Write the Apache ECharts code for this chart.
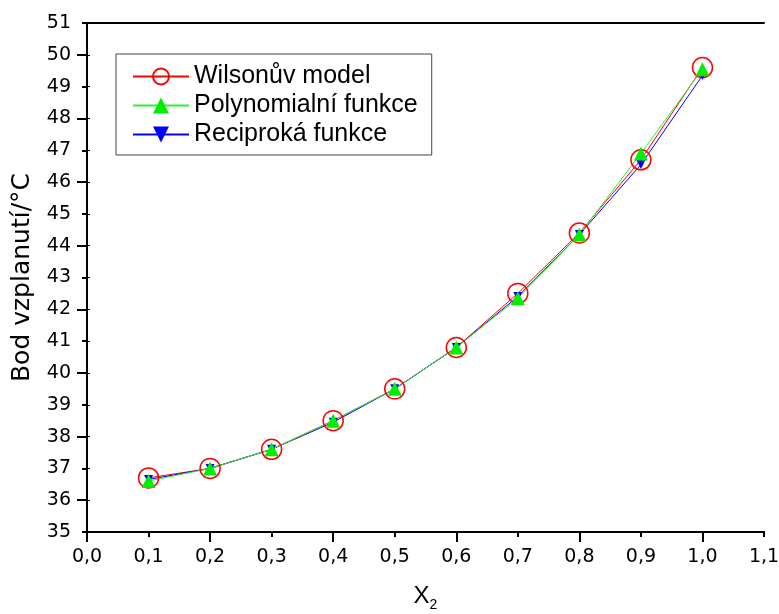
<!DOCTYPE html>
<html lang="cs">
<head>
    <meta charset="UTF-8">
    <title>Bod vzplanutí</title>
    <script src="https://cdn.jsdelivr.net/npm/echarts@6/dist/echarts.min.js"></script>
    <style>
        html, body {margin: 0; padding: 0; background: #fff;}
        #main {width: 779px; height: 614px;}
    </style>
</head>
<body>
<div id="main"></div>
<script type="text/javascript">
    // data
    var xValues = [0.1, 0.2, 0.3, 0.4, 0.5, 0.6, 0.7, 0.8, 0.9, 1.0];
    var wilson = [36.7, 37.0, 37.6, 38.5, 39.5, 40.8, 42.5, 44.4, 46.7, 49.6];
    var polynom = [36.6, 37.0, 37.6, 38.5, 39.5, 40.8, 42.35, 44.35, 46.9, 49.55];
    var recip = [36.65, 37.0, 37.6, 38.45, 39.5, 40.8, 42.4, 44.35, 46.55, 49.35];
    var seriesNames = ['Wilsonův model', 'Polynomialní funkce', 'Reciproká funkce'];
    // positions of the long ticks
    var xMajorTicks = [0, 0.2, 0.4, 0.6, 0.8, 1.0];
    var yMajorTicks = [36, 38, 40, 42, 44, 46, 48, 50];

    var fontName = 'Liberation Sans, Arial, sans-serif';
    var wideFont = 'DejaVu Sans, sans-serif';
    var labelSize = 19;

    function pairs(ys) {
        var out = [];
        for (var i = 0; i < xValues.length; i++) {
            out.push([xValues[i], ys[i]]);
        }
        return out;
    }

    function formatComma(v) {
        return v.toFixed(1).replace('.', ',');
    }

    var axisLine = {show: true, lineStyle: {color: '#000', width: 2}};

    var myChart = echarts.init(document.getElementById('main'));
    var option = {
        backgroundColor: '#fff',
        animation: false,
        grid: {left: 87, right: 15, top: 23, bottom: 82, outerBoundsMode: 'none', containLabel: false},
        legend: {
            orient: 'vertical',
            left: 116,
            top: 54,
            padding: [10, 14, 8, 16],
            itemGap: 4,
            itemWidth: 56,
            itemHeight: 20,
            borderColor: '#444',
            borderWidth: 1,
            textStyle: {fontFamily: fontName, fontSize: 25, color: '#000'},
            data: seriesNames
        },
        xAxis: [{
            type: 'value',
            min: 0, max: 1.1, interval: 0.1,
            position: 'bottom',
            name: '{a|X}{b|2}',
            nameLocation: 'middle',
            nameGap: 48,
            nameTextStyle: {
                rich: {
                    a: {fontFamily: fontName, fontSize: 24, color: '#000'},
                    b: {fontFamily: fontName, fontSize: 14, color: '#000', padding: [18, 0, 0, 0]}
                }
            },
            axisLine: axisLine,
            axisTick: {show: true, length: 5, lineStyle: {color: '#000', width: 2}},
            axisLabel: {fontFamily: wideFont, fontSize: labelSize, color: '#000', margin: 16, formatter: formatComma},
            splitLine: {show: false}
        }, {
            // longer ticks on every second step
            type: 'value',
            min: 0, max: 1.1, interval: 0.1,
            position: 'bottom',
            axisLine: axisLine,
            axisTick: {show: true, length: 10, customValues: xMajorTicks, lineStyle: {color: '#000', width: 2}},
            axisLabel: {show: false, customValues: xMajorTicks},
            splitLine: {show: false}
        }, {
            type: 'value',
            min: 0, max: 1.1, interval: 0.1,
            position: 'top',
            axisLine: axisLine,
            axisTick: {show: false},
            axisLabel: {show: false},
            splitLine: {show: false}
        }],
        yAxis: [{
            type: 'value',
            min: 35, max: 51, interval: 1,
            position: 'left',
            name: 'Bod vzplanutí/°C',
            nameLocation: 'middle',
            nameGap: 52,
            nameTextStyle: {fontFamily: wideFont, fontSize: 25, color: '#000'},
            axisLine: axisLine,
            axisTick: {show: true, length: 5, lineStyle: {color: '#000', width: 2}},
            axisLabel: {fontFamily: wideFont, fontSize: labelSize, color: '#000', margin: 16},
            splitLine: {show: false}
        }, {
            type: 'value',
            min: 35, max: 51, interval: 1,
            position: 'left',
            axisLine: axisLine,
            axisTick: {show: true, length: 10, customValues: yMajorTicks, lineStyle: {color: '#000', width: 2}},
            axisLabel: {show: false, customValues: yMajorTicks},
            splitLine: {show: false}
        }, {
            type: 'value',
            min: 35, max: 51, interval: 1,
            position: 'right',
            axisLine: axisLine,
            axisTick: {show: true, length: 3, lineStyle: {color: '#000', width: 1}},
            axisLabel: {show: false},
            splitLine: {show: false}
        }],
        // drawn in this order: red, blue, green on top
        series: [{
            name: seriesNames[0],
            type: 'line',
            data: pairs(wilson),
            symbol: 'circle',
            symbolSize: 20,
            lineStyle: {color: '#ff0000', width: 1},
            itemStyle: {color: 'rgba(255,255,255,0)', borderColor: '#ff0000', borderWidth: 1.5}
        }, {
            name: seriesNames[2],
            type: 'line',
            data: pairs(recip),
            symbol: 'triangle',
            symbolRotate: 180,
            symbolSize: 9,
            lineStyle: {color: '#0000ff', width: 1},
            itemStyle: {color: '#0000ff', borderWidth: 0}
        }, {
            name: seriesNames[1],
            type: 'line',
            data: pairs(polynom),
            symbol: 'triangle',
            symbolSize: 14,
            lineStyle: {color: '#33ee33', width: 1},
            itemStyle: {color: '#00ee00', borderWidth: 0}
        }]
    };

    myChart.setOption(option);
</script>
</body>
</html>
